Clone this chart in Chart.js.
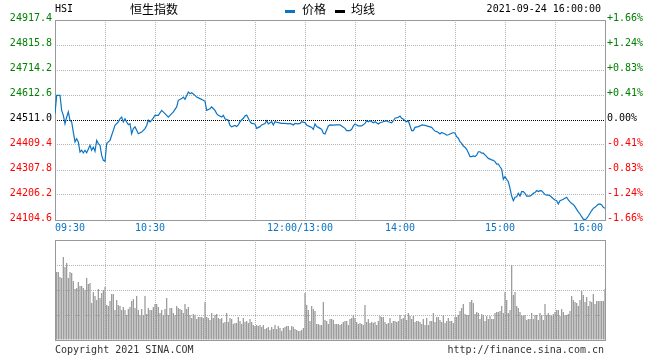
<!DOCTYPE html>
<html>
<head>
<meta charset="utf-8">
<script src="https://cdn.jsdelivr.net/npm/chart.js@4.4.0/dist/chart.umd.min.js"></script>
<style>
  html, body { margin: 0; padding: 0; background: #fff; }
  #wrap { position: relative; width: 660px; height: 360px; overflow: hidden; }
  canvas { position: absolute; left: 0; }
  .t { position: absolute; white-space: nowrap; font: 10px "DejaVu Sans Mono", monospace; line-height: 12px; color: #000; }
  .cn { font: 12px "Noto Sans CJK SC", sans-serif; line-height: 14px; }
  .mk { position: absolute; width: 10px; height: 3px; }
  .foot { color: #333; }
</style>
</head>
<body>
<div id="wrap">
  <canvas id="price" width="660" height="240" style="top:0"></canvas>
  <canvas id="vol" width="660" height="130" style="top:230px"></canvas>
  <div class="t" style="left:55px;top:3px">HSI</div>
  <div class="t cn" style="left:130px;top:2px">恒生指数</div>
  <div class="mk" style="left:285px;top:10px;background:#0b74c4"></div>
  <div class="t cn" style="left:302px;top:2px">价格</div>
  <div class="mk" style="left:335px;top:10px;background:#000"></div>
  <div class="t cn" style="left:351px;top:2px">均线</div>
  <div class="t" style="right:59px;top:3px">2021-09-24 16:00:00</div>
  <div class="t foot" style="left:55px;top:344px">Copyright 2021 SINA.COM</div>
  <div class="t foot" style="right:56px;top:344px">http://finance.sina.com.cn</div>
</div>
<script>
// minutes since 09:30 (lunch break removed: 150 = 12:00/13:00, 330 = 16:00)
const priceMinute = [
  0,1,3,4,5,6,7,8,9,10, 11,12,13,14,15,16,17,18,19,21, 22,23,24,25,26,27,28,29,30,31,
  32,33,34,35,36,38,39,40,41,42, 43,44,45,46,47,48,49,50,52,54, 55,56,57,58,60,62,64,66,68,69,
  71,73,74,76,77,78,80,81,82,84, 85,87,89,90,91,93,94,96,97,98, 100,101,102,104,105,106,108,109,
  110,111,113,114,115,116,117,118,120,121, 123,124,126,127,128,130,131,132,134,136,
  138,140,141,143,144,146,147,148,150,151, 152,154,155,156,157,158,159,160,161,162,
  163,164,165,167,169,171,172,174,175,177, 178,179,180,181,182,184,186,187,188,189,
  191,192,194,195,197,199,200,202,203,204, 206,207,208,209,210,211,212,214,215,216, 218,219,
  220,222,224,226,227,228,229,230,231,232, 233,234,235,236,237,238,239,240,241,242,
  243,244,245,246,247,248,249,250,251,252, 253,254,255,256,257,258,259,260,261,262,
  263,264,265,266,267,268,269,270,271,272, 273,274,275,276,277,278,279,280,281,282,
  283,284,285,286,287,288,289,290,291,292, 293,294,295,296,297,298,299,300,301,302,
  303,304,305,306,307,308,309,310,311,312, 313,314,315,316,317,318,319,320,321,322,
  323,324,325,326,327,328,329,330
];
const priceValues = [
  24537,24611,24611,24550,24530,24496,24523,24544,24510,24503,
  24462,24422,24435,24422,24381,24388,24377,24388,24378,24408,
  24388,24401,24384,24428,24415,24408,24367,24347,24343,24415,
  24422,24428,24449,24469,24489,24503,24516,24523,24503,24516,
  24503,24492,24496,24455,24476,24483,24469,24455,24462,24476,
  24489,24510,24503,24510,24530,24530,24550,24537,24523,24530,
  24544,24564,24591,24598,24604,24595,24625,24618,24622,24611,
  24604,24598,24591,24587,24550,24557,24564,24550,24537,24530,
  24523,24530,24516,24510,24489,24483,24489,24485,
  24491,24504,24518,24527,24531,24518,24504,24497,24495,24477,
  24484,24491,24497,24508,24495,24504,24491,24504,24500,24497,
  24497,24495,24497,24491,24497,24495,24497,24504,24500,24491,
  24487,24481,24473,24495,24484,24481,24477,24473,24457,24454,
  24470,24487,24491,24490,24491,24491,24487,24477,24468,24468,
  24473,24487,24495,24491,24487,24487,24497,24508,24504,24508,
  24500,24504,24495,24500,24504,24508,24504,24500,24508,24518,
  24522,24527,24518,24514,24508,24504,24508,24468,24468,24481,
  24484,24487,
  24491,24489,24485,24481,24473,24466,24464,24460,24454,24460,
  24457,24454,24450,24451,24454,24457,24460,24457,24443,24437,
  24423,24416,24405,24400,24392,24378,24362,24362,24365,24362,
  24368,24382,24382,24376,24376,24369,24362,24355,24352,24349,
  24347,24342,24332,24332,24321,24311,24270,24281,24270,24260,
  24233,24202,24183,24197,24199,24213,24202,24220,24220,24213,
  24202,24202,24202,24206,24213,24216,24224,24220,24224,24223,
  24216,24208,24206,24206,24203,24197,24191,24186,24183,24170,
  24183,24186,24189,24193,24197,24186,24178,24172,24168,24159,
  24148,24138,24129,24118,24108,24105,24111,24121,24132,24143,
  24152,24156,24163,24168,24170,24166,24156,24152
];
// one volume bar per minute, minute 0..330 (relative units, 100 = panel top)
const volumes = [
  100,68,68,63,62,83,73,77,62,68, 67,59,51,52,58,54,54,52,50,62,
  56,57,37,48,44,40,51,42,47,50, 53,35,34,39,46,46,30,40,35,34,
  30,33,30,25,31,33,39,41,32,44, 30,25,31,25,44,26,32,30,30,33,
  36,36,33,27,30,25,31,42,25,32, 32,27,25,34,32,31,30,27,36,31,
  33,25,22,26,25,21,23,23,23,22, 38,23,22,20,27,22,25,26,22,21,
  22,17,18,27,18,22,21,16,17,17,
  23,19,16,22,18,19,17,21,18,15, 14,15,14,15,13,15,11,12,13,10,
  13,11,15,11,14,12,9,12,13,14, 14,10,14,13,11,10,9,9,10,12,
  47,
  35,30,19,34,31,29,16,16,15,15, 38,20,19,16,21,21,20,16,16,16,
  15,16,18,19,19,15,21,22,25,22, 18,16,17,16,15,35,18,21,17,18,
  17,18,15,19,24,23,23,18,16,17, 22,17,19,19,18,19,25,21,22,25,
  20,27,24,21,24,18,19,19,18,
  16,21,15,22,15,19,19,27,18,23, 23,20,18,25,17,19,22,19,19,17,
  23,23,25,29,32,36,26,25,25,38, 40,37,26,28,27,21,26,25,19,24,
  21,24,21,21,27,28,28,29,34,27, 48,40,27,30,75,45,48,34,32,28,
  25,24,25,20,21,21,27,21,25,25, 20,27,25,20,36,25,27,25,24,26,
  28,30,30,24,31,28,25,25,26,29, 44,40,38,37,34,40,49,45,38,43,
  34,39,38,46,36,39,39,39,39,39,51
];
const priceTicks = [24104.6, 24206.2, 24307.8, 24409.4, 24511.0, 24612.6, 24714.2, 24815.8, 24917.4];
const pctLabels = ['-1.66%', '-1.24%', '-0.83%', '-0.41%', '0.00%', '+0.41%', '+0.83%', '+1.24%', '+1.66%'];
const prevClose = 24511.0;
const gridMinutes = [0, 30, 60, 90, 120, 150, 180, 210, 240, 270, 300, 330];
const timeTickMinutes = [0, 60, 150, 210, 270, 330];
const timeTickLabels = ['09:30', '10:30', '12:00/13:00', '14:00', '15:00', '16:00'];
const volTicks = [0, 25, 50, 75, 100];

const MONO = '"DejaVu Sans Mono", monospace';
const GRID = '#b4b4b4';
const FRAME = '#999999';
const BLUE = '#0b74c4';

const tickColor = v => Math.abs(v - prevClose) < 0.01 ? '#000' : (v > prevClose ? '#008000' : '#ff0000');

const framePlugin = {
  id: 'frame',
  beforeDatasetsDraw(chart) {
    const { ctx, chartArea: a } = chart;
    ctx.save();
    ctx.strokeStyle = FRAME;
    ctx.lineWidth = 1;
    ctx.strokeRect(Math.round(a.left) + 0.5, Math.round(a.top) + 0.5,
      Math.round(a.right - a.left), Math.round(a.bottom - a.top));
    ctx.restore();
  }
};

const timeLabelPlugin = {
  id: 'timeLabels',
  afterDraw(chart) {
    const { ctx } = chart;
    const xs = chart.scales.x;
    ctx.save();
    ctx.font = '10px ' + MONO;
    ctx.fillStyle = BLUE;
    ctx.textBaseline = 'middle';
    const last = timeTickMinutes.length - 1;
    timeTickMinutes.forEach((m, i) => {
      const x = xs.getPixelForValue(m);
      if (i === 0) { ctx.textAlign = 'left'; ctx.fillText(timeTickLabels[i], x, 228); }
      else if (i === last) { ctx.textAlign = 'right'; ctx.fillText(timeTickLabels[i], x - 2, 228); }
      else { ctx.textAlign = 'center'; ctx.fillText(timeTickLabels[i], x - 5, 228); }
    });
    ctx.restore();
  }
};

const minuteAxis = (height) => ({
  type: 'linear', min: 0, max: 330,
  offset: false,
  afterBuildTicks: s => { s.ticks = gridMinutes.map(v => ({ value: v })); },
  ticks: { display: false },
  grid: { color: GRID, drawTicks: false, offset: false },
  border: { display: false, dash: [1, 1] },
  afterFit: s => { s.height = height; }
});

new Chart(document.getElementById('price'), {
  type: 'line',
  data: {
    datasets: [{
      data: priceMinute.map((m, i) => ({ x: m, y: priceValues[i] })),
      borderColor: BLUE,
      borderWidth: 1.2,
      pointRadius: 0,
      tension: 0,
      fill: false
    }]
  },
  options: {
    responsive: false,
    animation: false,
    layout: { padding: { top: 20 } },
    plugins: { legend: { display: false }, tooltip: { enabled: false } },
    scales: {
      x: minuteAxis(20),
      y: {
        position: 'left',
        min: priceTicks[0], max: priceTicks[priceTicks.length - 1],
        afterBuildTicks: s => { s.ticks = priceTicks.map(v => ({ value: v })); },
        ticks: {
          font: { family: MONO, size: 10 },
          color: c => tickColor(c.tick.value),
          padding: 3,
          labelOffset: -2,
          callback: v => v.toFixed(1)
        },
        grid: { color: c => (c.tick && Math.abs(c.tick.value - prevClose) < 0.01) ? '#000' : GRID, drawTicks: false },
        border: { display: false, dash: [1, 1] },
        afterFit: s => { s.width = 55; }
      },
      y2: {
        position: 'right',
        min: priceTicks[0], max: priceTicks[priceTicks.length - 1],
        afterBuildTicks: s => { s.ticks = priceTicks.map(v => ({ value: v })); },
        ticks: {
          font: { family: MONO, size: 10 },
          color: c => tickColor(c.tick.value),
          padding: 2,
          labelOffset: -2,
          callback: (v, i) => pctLabels[i]
        },
        grid: { display: false, drawTicks: false },
        border: { display: false },
        afterFit: s => { s.width = 55; }
      }
    }
  },
  plugins: [framePlugin, timeLabelPlugin]
});

new Chart(document.getElementById('vol'), {
  type: 'bar',
  data: {
    datasets: [{
      data: volumes.map((v, i) => ({ x: i, y: v })),
      backgroundColor: '#999999',
      barPercentage: 0.75,
      categoryPercentage: 1
    }]
  },
  options: {
    responsive: false,
    animation: false,
    layout: { padding: { top: 10, right: 55 } },
    plugins: { legend: { display: false }, tooltip: { enabled: false } },
    scales: {
      x: minuteAxis(20),
      y: {
        min: 0, max: 100,
        afterBuildTicks: s => { s.ticks = volTicks.map(v => ({ value: v })); },
        ticks: { display: false },
        grid: { color: GRID, drawTicks: false },
        border: { display: false, dash: [1, 1] },
        afterFit: s => { s.width = 55; }
      }
    }
  },
  plugins: [framePlugin]
});
</script>
</body>
</html>
